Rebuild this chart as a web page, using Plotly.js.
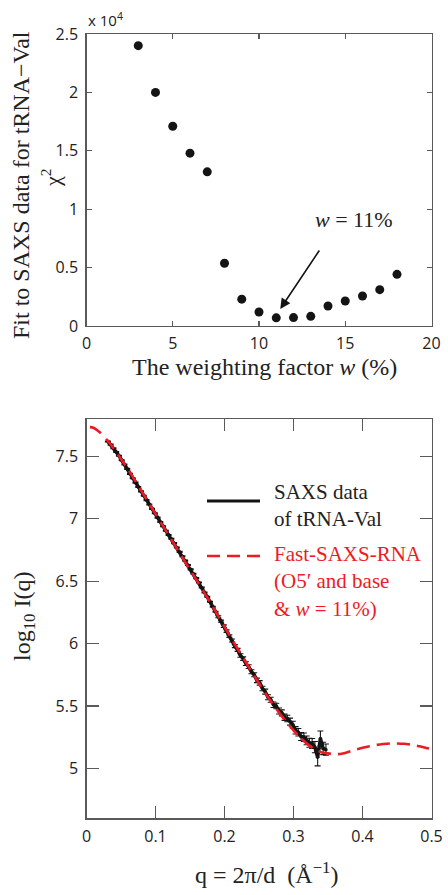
<!DOCTYPE html>
<html>
<head>
<meta charset="utf-8">
<script src="https://cdn.plot.ly/plotly-3.0.1.min.js"></script>
<style>html,body{margin:0;padding:0;background:#fff;}#chart{width:448px;height:895px;}</style>
</head>
<body>
<div id="chart"></div>
<script>
// ---- Top panel: chi^2 vs weighting factor ----
var weightW = [3,4,5,6,7,8,9,10,11,12,13,14,15,16,17,18];
var chi2 = [24000,20000,17100,14800,13200,5370,2300,1200,700,720,830,1710,2140,2570,3110,4420];
var topYTickVals = [0,5000,10000,15000,20000,25000];
var topYTickText = ['0','0.5','1','1.5','2','2.5'];
var topXTickVals = [0,5,10,15,20];

// ---- Bottom panel: SAXS data and model ----
var qData = [0.031,0.035,0.039,0.043,0.047,0.051,0.055,0.059,0.063,0.067,
             0.071,0.075,0.079,0.083,0.087,0.091,0.095,0.099,0.103,0.107,
             0.111,0.115,0.119,0.123,0.127,0.131,0.135,0.139,0.143,0.147,
             0.151,0.155,0.159,0.163,0.167,0.171,0.175,0.179,0.183,0.187,
             0.191,0.195,0.199,0.203,0.207,0.211,0.215,0.219,0.223,0.227,
             0.231,0.235,0.239,0.243,0.247,0.251,0.255,0.259,0.263,0.267,
             0.271,0.275,0.279,0.283,0.287,0.291,0.295,0.299,0.303,0.307,
             0.311,0.315,0.319,0.323,0.327,0.331,0.335,0.339,0.343,0.347];
var logIData = [7.62,7.595,7.565,7.535,7.505,7.47,7.435,7.40,7.36,7.325,
                7.29,7.255,7.22,7.185,7.15,7.115,7.08,7.045,7.01,6.975,
                6.94,6.905,6.87,6.84,6.805,6.77,6.735,6.70,6.665,6.63,
                6.595,6.56,6.525,6.49,6.45,6.41,6.375,6.335,6.295,6.255,
                6.215,6.18,6.14,6.10,6.06,6.025,5.98,5.95,5.905,5.88,
                5.84,5.815,5.775,5.75,5.705,5.685,5.64,5.615,5.57,5.55,
                5.51,5.50,5.46,5.445,5.41,5.40,5.375,5.35,5.305,5.29,
                5.255,5.25,5.225,5.205,5.20,5.17,5.09,5.24,5.16,5.15];
var logIErr = [0.004,0.004,0.004,0.004,0.004,0.004,0.004,0.004,0.004,0.004,
               0.004,0.004,0.004,0.004,0.004,0.004,0.004,0.004,0.004,0.004,
               0.004,0.004,0.004,0.004,0.004,0.004,0.004,0.004,0.004,0.004,
               0.004,0.004,0.004,0.004,0.004,0.004,0.004,0.004,0.004,0.004,
               0.008,0.008,0.01,0.01,0.01,0.012,0.012,0.012,0.014,0.014,
               0.015,0.015,0.016,0.016,0.018,0.018,0.018,0.02,0.02,0.02,
               0.022,0.022,0.024,0.024,0.025,0.026,0.028,0.028,0.03,0.03,
               0.032,0.034,0.035,0.036,0.04,0.045,0.07,0.06,0.05,0.045];
var qModel = [0.005,0.01,0.02,0.03,0.04,0.05,0.06,0.07,0.08,0.09,
              0.10,0.11,0.12,0.13,0.14,0.15,0.16,0.17,0.18,0.19,
              0.20,0.21,0.22,0.23,0.24,0.25,0.26,0.27,0.28,0.29,
              0.30,0.31,0.32,0.33,0.34,0.35,0.36,0.37,0.38,0.39,
              0.40,0.41,0.42,0.43,0.44,0.45,0.46,0.47,0.48,0.49,0.50];
var logIModel = [7.735,7.73,7.69,7.63,7.56,7.48,7.40,7.31,7.22,7.13,
                 7.04,6.95,6.86,6.77,6.68,6.59,6.505,6.415,6.325,6.23,
                 6.135,6.04,5.95,5.86,5.77,5.68,5.595,5.515,5.44,5.37,
                 5.305,5.245,5.195,5.155,5.13,5.12,5.113,5.118,5.133,5.15,
                 5.165,5.178,5.188,5.195,5.2,5.2,5.197,5.19,5.18,5.168,5.155];
var botXTickVals = [0,0.1,0.2,0.3,0.4,0.5];
var botXTickText = ['0','0.1','0.2','0.3','0.4','0.5'];
var botYTickVals = [5,5.5,6,6.5,7,7.5];
var botYTickText = ['5','5.5','6','6.5','7','7.5'];

var W = 448, H = 895;
function px(x){return x/W;}
function py(y){return 1-y/H;}

var RED = '#ec1c24';
var INK = '#141414';
var AX = '#5a5a5a';
var serif = 'Liberation Serif, Times New Roman, serif';
var sans = 'Open Sans, Noto Sans, sans-serif';

var traces = [
  {x: weightW, y: chi2, type:'scatter', mode:'markers', xaxis:'x', yaxis:'y',
   marker:{size:9, color:INK}, hoverinfo:'skip'},
  {x: qData, y: logIData, type:'scatter', mode:'lines+markers', xaxis:'x2', yaxis:'y2',
   line:{color:INK, width:3.5}, marker:{size:3.5, color:INK},
   error_y:{type:'data', array:logIErr, visible:true, color:INK, thickness:1.1, width:3},
   hoverinfo:'skip'},
  {x: qModel, y: logIModel, type:'scatter', mode:'lines', xaxis:'x2', yaxis:'y2',
   line:{color:RED, width:2.6, dash:'13px,7px', shape:'spline', smoothing:0.6},
   hoverinfo:'skip'}
];

var axisCommon = {
  showgrid:false, zeroline:false, showline:true, linecolor:AX, linewidth:1.2,
  mirror:'ticks', ticks:'inside', tickcolor:AX, tickwidth:1.2,
  tickfont:{family:sans, size:16, color:'#222'}
};

var xDom = [px(86.5), px(431.5)];
var layout = {
  width:W, height:H, autosize:false, showlegend:false,
  margin:{l:0,r:0,t:0,b:0}, paper_bgcolor:'#fff', plot_bgcolor:'#fff',
  xaxis: Object.assign({}, axisCommon, {domain:xDom, anchor:'y', range:[0,20],
          tickmode:'array', tickvals:topXTickVals, ticklen:5, ticklabelstandoff:3}),
  yaxis: Object.assign({}, axisCommon, {domain:[py(326), py(34)], anchor:'x', range:[0,25000],
          tickmode:'array', tickvals:topYTickVals, ticktext:topYTickText, ticklen:5, ticklabelstandoff:4}),
  xaxis2: Object.assign({}, axisCommon, {domain:xDom, anchor:'y2', range:[0,0.5],
          tickmode:'array', tickvals:botXTickVals, ticktext:botXTickText, ticklen:12, ticklabelstandoff:3}),
  yaxis2: Object.assign({}, axisCommon, {domain:[py(818.3), py(419)], anchor:'x2', range:[4.6,7.8],
          tickmode:'array', tickvals:botYTickVals, ticktext:botYTickText, ticklen:12, ticklabelstandoff:4}),
  shapes: [
    {type:'line', xref:'paper', yref:'paper', x0:px(207), x1:px(260), y0:py(501), y1:py(501),
     line:{color:INK, width:3}},
    {type:'line', xref:'paper', yref:'paper', x0:px(207), x1:px(260), y0:py(556), y1:py(556),
     line:{color:RED, width:2.6, dash:'13px,7px'}}
  ],
  annotations: [
    {text:'x 10<sup>4</sup>', xref:'paper', yref:'paper', x:px(86), y:py(20), xanchor:'left', yanchor:'middle',
     showarrow:false, font:{family:sans, size:15, color:'#222'}},
    {text:'Fit to SAXS data for tRNA\u2212Val', xref:'paper', yref:'paper', x:px(21), y:py(185),
     xanchor:'center', yanchor:'middle', textangle:-90, showarrow:false, font:{family:serif, size:24, color:'#222'}},
    {text:'\u03c7<sup>2</sup>', xref:'paper', yref:'paper', x:px(51), y:py(178),
     xanchor:'center', yanchor:'middle', textangle:-90, showarrow:false, font:{family:serif, size:22, color:'#222'}},
    {text:'The weighting factor <i>w</i> (%)', xref:'paper', yref:'paper', x:px(264), y:py(367),
     xanchor:'center', yanchor:'middle', showarrow:false, font:{family:serif, size:24, color:'#222'}},
    {text:'<i>w</i> = 11%', xref:'paper', yref:'paper', x:px(313), y:py(220),
     xanchor:'left', yanchor:'middle', showarrow:false, font:{family:serif, size:22, color:'#222'}},
    {text:' ', xref:'x', yref:'y', x:11.23, y:1455, axref:'x', ayref:'y', ax:13.67, ay:6849,
     showarrow:true, arrowhead:2, arrowsize:1.3, arrowwidth:1.6, arrowcolor:INK},
    {text:'log<sub>10</sub> I(q)', xref:'paper', yref:'paper', x:px(24), y:py(617),
     xanchor:'center', yanchor:'middle', textangle:-90, showarrow:false, font:{family:serif, size:24, color:'#222'}},
    {text:'q = 2\u03c0/d  (\u00c5<sup>\u22121</sup>)', xref:'paper', yref:'paper', x:px(267), y:py(873),
     xanchor:'center', yanchor:'middle', showarrow:false, font:{family:serif, size:24, color:'#222'}},
    {text:'SAXS data<br>of tRNA-Val', xref:'paper', yref:'paper', x:px(272), y:py(506), align:'left',
     xanchor:'left', yanchor:'middle', showarrow:false, font:{family:serif, size:21, color:'#222'}},
    {text:'Fast-SAXS-RNA<br>(O5\u2032 and base<br>&amp; <i>w</i> = 11%)', xref:'paper', yref:'paper', x:px(272), y:py(581.5), align:'left',
     xanchor:'left', yanchor:'middle', showarrow:false, font:{family:serif, size:21, color:RED}}
  ]
};

Plotly.newPlot('chart', traces, layout, {staticPlot:true, displayModeBar:false});
</script>
</body>
</html>
